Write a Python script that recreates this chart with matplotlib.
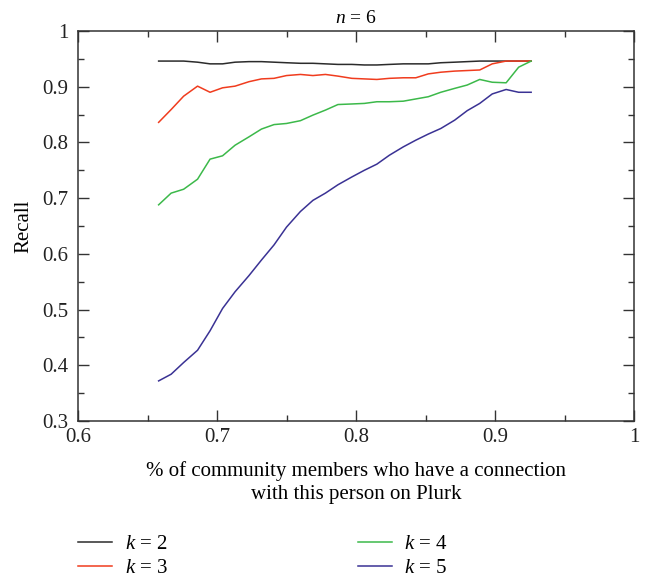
import numpy as np
import matplotlib.pyplot as plt
from matplotlib.ticker import MultipleLocator, FormatStrFormatter

plt.rcParams['font.family'] = ['Liberation Serif', 'DejaVu Serif']
plt.rcParams['mathtext.fontset'] = 'custom'
plt.rcParams['mathtext.it'] = 'Liberation Serif:italic'
plt.rcParams['mathtext.rm'] = 'Liberation Serif'

# share of community members connected (x) and recall per k
x = [0.658, 0.667, 0.676, 0.686, 0.695, 0.704, 0.713, 0.723, 0.732, 0.741,
     0.750, 0.760, 0.769, 0.778, 0.787, 0.797, 0.806, 0.815, 0.824, 0.834,
     0.843, 0.852, 0.861, 0.871, 0.880, 0.889, 0.898, 0.908, 0.917, 0.926]

k2 = [0.946, 0.946, 0.946, 0.944, 0.941, 0.941, 0.944, 0.945, 0.945, 0.944,
      0.943, 0.942, 0.942, 0.941, 0.940, 0.940, 0.939, 0.939, 0.940, 0.941,
      0.941, 0.941, 0.943, 0.944, 0.945, 0.946, 0.946, 0.946, 0.946, 0.946]

k3 = [0.836, 0.859, 0.883, 0.901, 0.890, 0.898, 0.901, 0.909, 0.914, 0.915,
      0.920, 0.922, 0.920, 0.922, 0.919, 0.915, 0.914, 0.913, 0.915, 0.916,
      0.916, 0.923, 0.926, 0.928, 0.929, 0.930, 0.941, 0.946, 0.946, 0.946]

k4 = [0.688, 0.709, 0.716, 0.734, 0.770, 0.776, 0.795, 0.810, 0.824, 0.832,
      0.834, 0.839, 0.849, 0.858, 0.868, 0.869, 0.870, 0.873, 0.873, 0.874,
      0.878, 0.882, 0.890, 0.897, 0.903, 0.913, 0.908, 0.907, 0.935, 0.946]

k5 = [0.372, 0.384, 0.405, 0.427, 0.462, 0.502, 0.532, 0.561, 0.589, 0.616,
      0.648, 0.676, 0.696, 0.709, 0.724, 0.738, 0.750, 0.761, 0.777, 0.792,
      0.804, 0.815, 0.825, 0.840, 0.857, 0.870, 0.887, 0.895, 0.890, 0.890]

series = [k2, k3, k4, k5]
labels = ['$k$ = 2', '$k$ = 3', '$k$ = 4', '$k$ = 5']
colors = ['#2b2b2b', '#f03c1e', '#3cb94a', '#3a3294']

fig = plt.figure(figsize=(6.49, 5.78), dpi=100)
ax = fig.add_axes([0.1202, 0.2716, 0.8567, 0.6748])

for y, lab, c in zip(series, labels, colors):
    ax.plot(x, y, color=c, lw=1.1, label=lab)

ax.set_xlim(0.6, 1.0)
ax.set_ylim(0.3, 1.0)
ax.xaxis.set_major_locator(MultipleLocator(0.1))
ax.xaxis.set_minor_locator(MultipleLocator(0.05))
ax.yaxis.set_major_locator(MultipleLocator(0.1))
ax.yaxis.set_minor_locator(MultipleLocator(0.05))
ax.xaxis.set_major_formatter(FormatStrFormatter('%g'))
ax.yaxis.set_major_formatter(FormatStrFormatter('%g'))
ax.tick_params(which='both', direction='in', top=True, right=True,
               colors='#333333', labelcolor='#222222', labelsize=15)
ax.tick_params(axis='x', which='major', pad=5)
ax.tick_params(axis='y', which='major', pad=7)
ax.tick_params(which='major', length=8, width=1)
ax.tick_params(which='minor', length=4, width=1)
for s in ax.spines.values():
    s.set_color('#333333')
    s.set_linewidth(1.1)

ax.set_title('$n$ = 6', fontsize=14, pad=6)
ax.set_ylabel('Recall', fontsize=15, labelpad=6)
ax.set_xlabel('% of community members who have a connection\nwith this person on Plurk',
              fontsize=15, labelpad=10, linespacing=1.3)

fig.legend(loc='upper left', bbox_to_anchor=(0.1202, 0.075), ncol=2,
           frameon=False, fontsize=15, handlelength=1.63, handletextpad=0.62,
           columnspacing=9.1, labelspacing=0.22, borderpad=0, borderaxespad=0)

fig.savefig('out.png', dpi=100)
